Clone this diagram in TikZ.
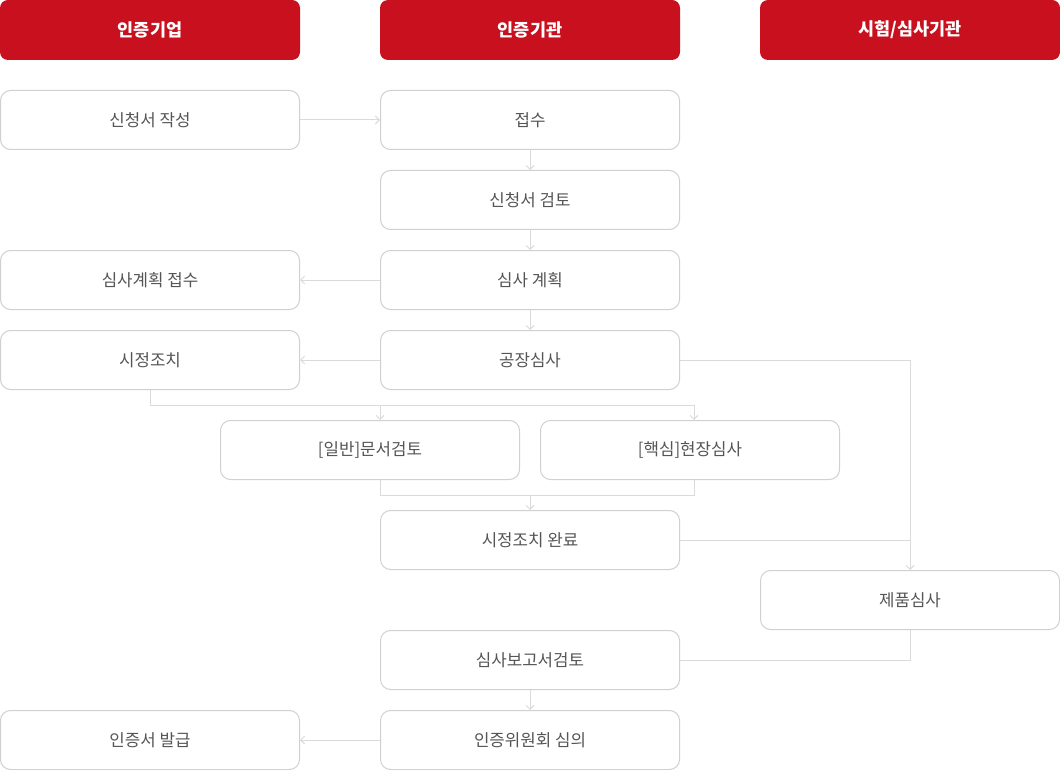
\documentclass[tikz,border=0pt]{standalone}
\usepackage{fontspec}
\setmainfont{Noto Sans CJK KR}
\usetikzlibrary{arrows.meta,positioning}
\definecolor{hdrred}{RGB}{200,16,30}
\definecolor{boxline}{RGB}{208,208,208}
\definecolor{conn}{RGB}{218,218,218}
\definecolor{txt}{RGB}{85,85,85}
\tikzset{
  hdr/.style={rectangle, rounded corners=8pt, fill=hdrred, draw=none,
    minimum width=300pt, minimum height=60pt, inner sep=0pt,
    text=white, font=\fontsize{17.5}{20}\selectfont\bfseries},
  proc/.style={rectangle, rounded corners=10pt, fill=white, draw=boxline, line width=1pt,
    minimum width=299pt, minimum height=59pt, inner sep=0pt,
    text=txt, font=\fontsize{16.8}{19}\selectfont},
  ln/.style={draw=conn, line width=1pt},
  arr/.style={ln, -{Straight Barb[length=4pt,width=8pt,line width=0.9pt]}},
}
\begin{document}
\begin{tikzpicture}[x=1pt,y=-1pt]
\useasboundingbox (0,0) rectangle (1060,770);
% headers
\node[hdr] (h1) at (150,30) {인증기업};
\node[hdr] (h2) at (530,30) {인증기관};
\node[hdr] (h3) at (910,30) {시험/심사기관};
% boxes
\node[proc] (a1) at (150,120) {신청서 작성};
\node[proc] (b1) at (530,120) {접수};
\node[proc] (b2) at (530,200) {신청서 검토};
\node[proc] (a3) at (150,280) {심사계획 접수};
\node[proc] (b3) at (530,280) {심사 계획};
\node[proc] (a4) at (150,360) {시정조치};
\node[proc] (b4) at (530,360) {공장심사};
\node[proc] (d1) at (370,450) {[일반]문서검토};
\node[proc] (d2) at (690,450) {[핵심]현장심사};
\node[proc] (b5) at (530,540) {시정조치 완료};
\node[proc] (c1) at (910,600) {제품심사};
\node[proc] (b6) at (530,660) {심사보고서검토};
\node[proc] (a7) at (150,740) {인증서 발급};
\node[proc] (b7) at (530,740) {인증위원회 심의};
% helper coordinates
\coordinate (j1) at (150,405);
\coordinate (j2) at (380,405);
\coordinate (j3) at (694,405);
\coordinate (k1) at (380,495);
\coordinate (k2) at (694,495);
\coordinate (k3) at (530,495);
\coordinate (r1) at (910,360);
\coordinate (r2) at (910,540);
\coordinate (r3) at (910,660);
% connectors
\draw[arr] (a1.east) -- (b1.west);
\draw[arr] (b1.south) -- (b2.north);
\draw[arr] (b2.south) -- (b3.north);
\draw[arr] (b3.west) -- (a3.east);
\draw[arr] (b3.south) -- (b4.north);
\draw[arr] (b4.west) -- (a4.east);
\draw[ln] (a4.south) -- (j1) -- (j3);
\draw[arr] (j2) -- (j2 |- d1.north);
\draw[arr] (j3) -- (j3 |- d2.north);
\draw[ln] (k1 |- d1.south) -- (k1) -- (k2) -- (k2 |- d2.south);
\draw[arr] (k3) -- (b5.north);
\draw[ln] (b4.east) -- (r1);
\draw[arr] (r1) -- (c1.north);
\draw[ln] (b5.east) -- (r2);
\draw[ln] (c1.south) -- (r3) -- (b6.east);
\draw[arr] (b6.south) -- (b7.north);
\draw[arr] (b7.west) -- (a7.east);
\end{tikzpicture}
\end{document}
